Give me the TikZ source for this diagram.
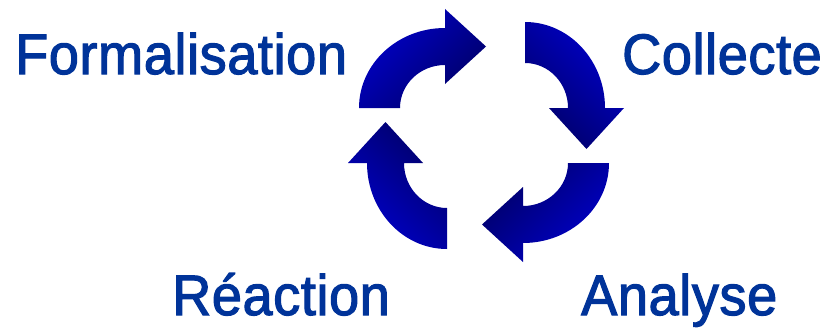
\documentclass[tikz,border=0pt]{standalone}
\usepackage{fontspec}
\newfontfamily\cyclefont{Liberation Sans}[FakeStretch=0.95, FakeBold=2, LetterSpace=1]
\usepackage{tikz}
\usetikzlibrary{positioning}
\definecolor{cycleText}{HTML}{003399}
\definecolor{cycleBright}{HTML}{0000CC}
\definecolor{cycleDark}{HTML}{000066}
\tikzset{
  steplabel/.style={anchor=base west, inner sep=0pt, text=cycleText,
    font=\cyclefont\fontsize{57}{60}\selectfont},
  bentarrow/.style={left color=cycleBright, right color=cycleDark},
}

\begin{document}
\begin{tikzpicture}[x=1pt, y=1pt]
    \useasboundingbox (0,0) rectangle (829,333);
    % one bent arrow per quarter of the cycle
    \foreach \cx/\cy/\rot/\ang in {445/225/0/45, 525/225/-90/-45,
                                   523/170/-180/-135, 447/170/-270/-225}{
      \begin{scope}[shift={(\cx,\cy)}, rotate=\rot]
        \shade[bentarrow, shading angle=\ang]
          (-86,0) arc[start angle=180, end angle=90, x radius=86, y radius=80]
          -- (0,99) -- (41,61.5) -- (0,24) -- (0,43)
          arc[start angle=90, end angle=180, x radius=45, y radius=43]
          -- cycle;
      \end{scope}
    }
    \node[steplabel] (formal) at (15,259) {Formalisation};
    \node[steplabel] (collect) at (622,259) {Collecte};
    \node[steplabel] (reaction) at (172,18) {Réaction};
    \node[steplabel] (analyse) at (581,18) {Analyse};
\end{tikzpicture}
\end{document}
